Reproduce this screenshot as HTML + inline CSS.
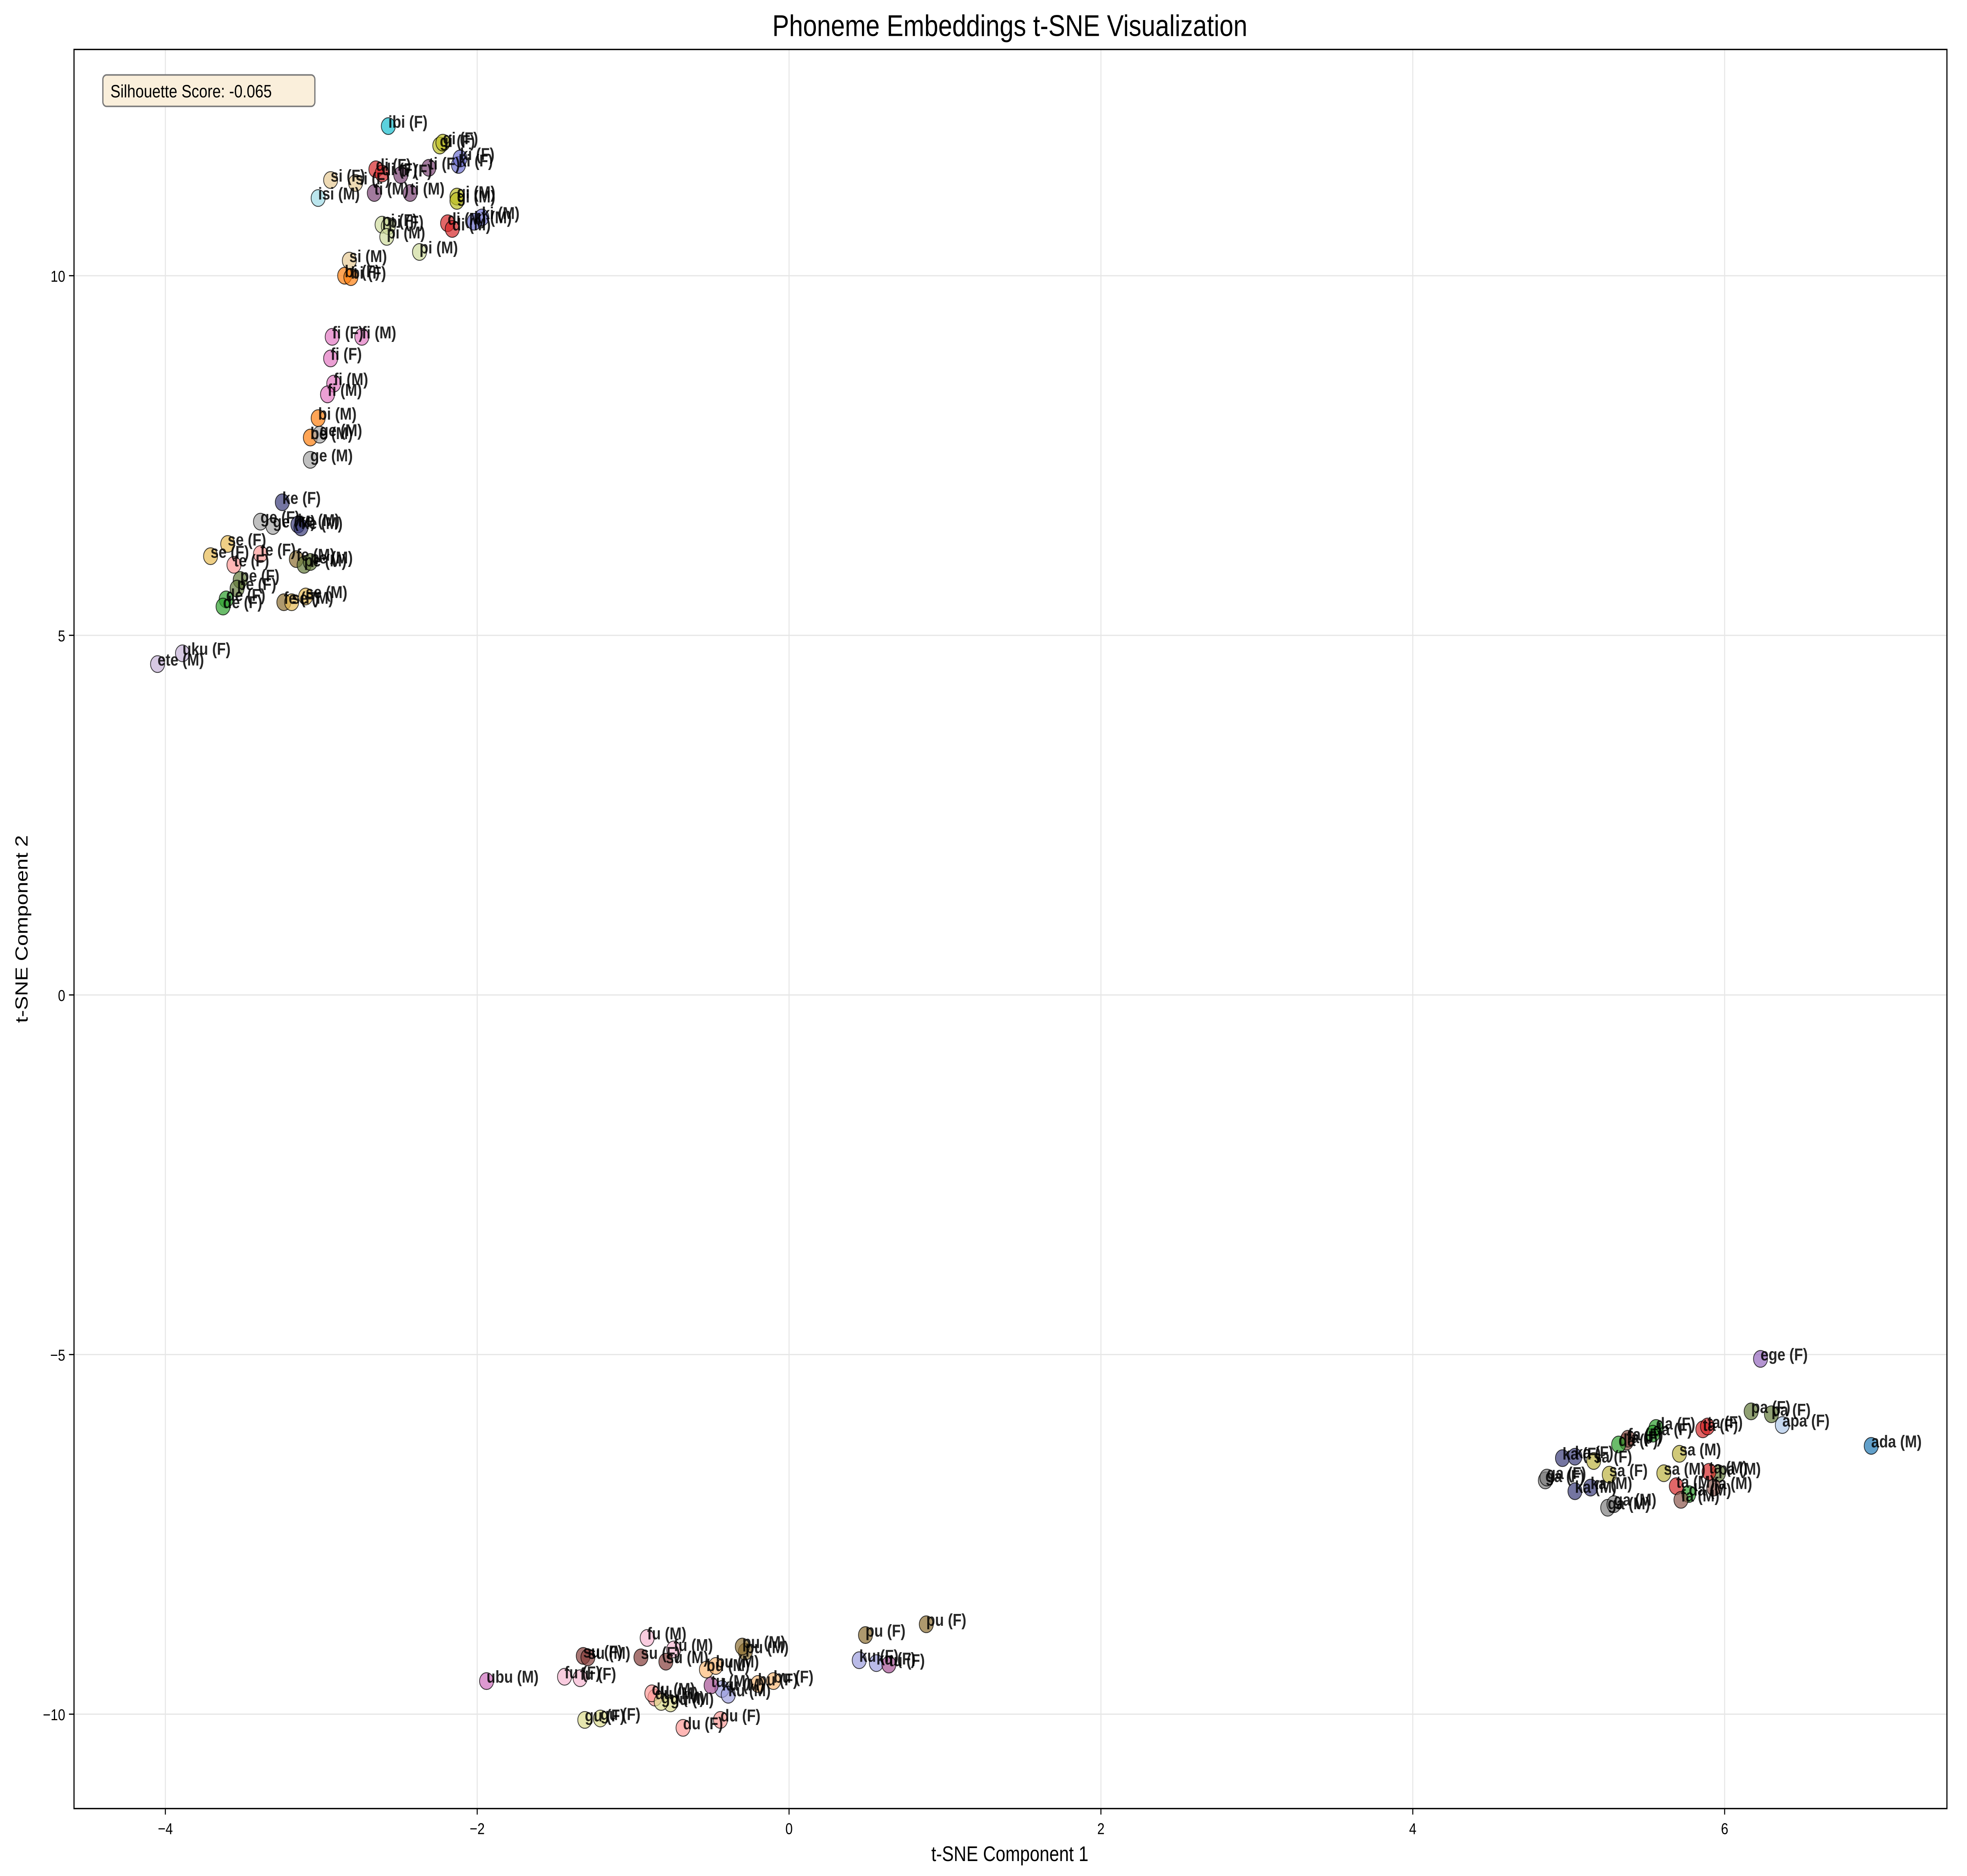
<!DOCTYPE html>
<html><head><meta charset="utf-8"><style>
html,body{margin:0;padding:0;background:#fff;width:100%;height:100%;overflow:hidden}
svg{display:block;position:fixed;left:0;top:0;width:100vw;height:100vh}
text{font-family:"Liberation Sans","DejaVu Sans",sans-serif}
</style></head><body>
<svg id="chart" viewBox="0 0 1568 1252" preserveAspectRatio="none" xmlns="http://www.w3.org/2000/svg">
<rect x="0" y="0" width="1568" height="1252" fill="#fff"/>
<text x="805" y="24" font-size="20" text-anchor="middle" fill="#000">Phoneme Embeddings t-SNE Visualization</text>
<g id="grid"></g>
<g id="points"></g>
<g id="labels"></g>
<rect x="59" y="33" width="1493" height="1174" fill="none" stroke="#000" stroke-width="0.9"/>
<g id="xticks"></g>
<g id="yticks"></g>
<text x="805" y="1242" font-size="14" text-anchor="middle">t-SNE Component 1</text>
<text x="0" y="0" font-size="14" text-anchor="middle" transform="translate(22,620) rotate(-90)">t-SNE Component 2</text>
<g>
<rect x="82" y="50" width="169" height="21" rx="3" fill="#faefdb" stroke="#7a7a7a" stroke-width="1"/>
<text x="88" y="65" font-size="12">Silhouette Score: -0.065</text>
</g>
</svg>
<script>
const labels=["ibi (F)","gi (F)","gi (F)","ki (F)","ki (F)","di (F)","di (F)","ti (F)","ti (F)","si (F)","si (F)","isi (M)","ti (M)","ti (M)","gi (M)","gi (M)","ki (M)","ki (M)","di (M)","di (M)","pi (F)","pi (F)","pi (M)","pi (M)","si (M)","bi (F)","bi (F)","fi (F)","fi (M)","fi (F)","fi (M)","fi (M)","bi (M)","be (M)","ge (M)","ge (M)","ke (F)","ge (F)","ke (M)","ke (M)","ge (M)","se (F)","se (F)","te (F)","te (F)","fe (M)","pe (M)","pe (M)","pe (F)","pe (F)","de (F)","de (F)","fe (F)","se (M)","se (M)","ete (M)","uku (F)",
"fu (M)","fu (M)","su (F)","su (M)","su (F)","su (M)","pu (M)","pu (M)","pu (F)","pu (F)","ku (F)","ku (F)","tu (F)","ubu (M)","fu (F)","fu (F)","bu (M)","bu (M)","bu (F)","ku (M)","ku (M)","du (M)","du (M)","gu (M)","gu (M)","gu (F)","gu (F)","du (F)","du (F)","tu (M)","bu (F)",
"ege (F)","ada (M)","apa (F)","pa (F)","pa (F)","ta (F)","ta (F)","da (F)","da (F)","fa (F)","fa (F)","da (F)","sa (F)","sa (F)","ka (F)","ka (F)","ga (F)","ga (F)","ka (M)","ka (M)","sa (M)","sa (M)","pa (M)","ta (M)","ta (M)","fa (M)","da (M)","fa (M)","ga (M)","ga (M)"];
const xs=[-2.57,-2.24,-2.22,-2.12,-2.11,-2.65,-2.61,-2.49,-2.31,-2.94,-2.78,-3.02,-2.66,-2.43,-2.13,-2.13,-2.02,-1.97,-2.19,-2.16,-2.61,-2.57,-2.58,-2.37,-2.82,-2.85,-2.81,-2.93,-2.74,-2.94,-2.92,-2.96,-3.02,-3.07,-3.01,-3.07,-3.25,-3.39,-3.15,-3.13,-3.31,-3.60,-3.71,-3.56,-3.39,-3.16,-3.11,-3.07,-3.52,-3.54,-3.61,-3.63,-3.24,-3.19,-3.10,-4.05,-3.89,
-0.91,-0.74,-1.32,-1.29,-0.95,-0.79,-0.28,-0.30,0.49,0.88,0.45,0.56,0.64,-1.94,-1.44,-1.34,-0.53,-0.47,-0.10,-0.43,-0.39,-0.86,-0.88,-0.76,-0.82,-1.31,-1.21,-0.68,-0.44,-0.50,-0.20,
6.23,6.94,6.37,6.30,6.17,5.86,5.89,5.56,5.54,5.37,5.38,5.32,5.16,5.26,4.96,5.04,4.85,4.86,5.04,5.14,5.71,5.61,5.96,5.90,5.69,5.93,5.77,5.72,5.25,5.29];
const ys=[12.08,11.81,11.85,11.54,11.63,11.48,11.42,11.40,11.50,11.33,11.29,11.08,11.15,11.15,11.10,11.04,10.75,10.81,10.73,10.65,10.71,10.69,10.54,10.33,10.21,10.00,9.98,9.15,9.15,8.85,8.50,8.35,8.02,7.75,7.79,7.44,6.85,6.58,6.54,6.50,6.52,6.27,6.10,5.98,6.13,6.06,5.98,6.02,5.77,5.65,5.50,5.40,5.46,5.46,5.54,4.60,4.75,
-8.94,-9.10,-9.19,-9.21,-9.21,-9.27,-9.13,-9.06,-8.90,-8.75,-9.25,-9.29,-9.31,-9.54,-9.48,-9.50,-9.38,-9.33,-9.54,-9.65,-9.73,-9.77,-9.71,-9.85,-9.83,-10.08,-10.06,-10.19,-10.08,-9.60,-9.58,
-5.06,-6.27,-5.98,-5.83,-5.79,-6.04,-6.00,-6.02,-6.10,-6.21,-6.17,-6.25,-6.48,-6.67,-6.44,-6.42,-6.75,-6.71,-6.90,-6.85,-6.38,-6.65,-6.65,-6.63,-6.83,-6.85,-6.94,-7.02,-7.13,-7.08];
const xTicks=[-4,-2,0,2,4,6];
const yTicks=[-10,-5,0,5,10];
const xTickLabels=["\u22124","\u22122","0","2","4","6"];
const yTickLabels=["\u221210","\u22125","0","5","10"];
const colorMap={ibi:"#17becf",gi:"#bcbd22",ki:"#6b6ecf",di:"#d62728",ti:"#7b4173",si:"#e7cb94",isi:"#9edae5",pi:"#cedb9c",bi:"#ff7f0e",be:"#ff7f0e",fi:"#e377c2",ge:"#a5a5a5",ke:"#393b79",se:"#e7ba52",te:"#ff9896",fe:"#8c6d31",pe:"#637939",de:"#2ca02c",ete:"#c5b0d5",uku:"#c5b0d5",
fu:"#f7b6d2",su:"#843c39",pu:"#8c6d31",ku:"#9c9ede",tu:"#a55194",ubu:"#ce6dbd",bu:"#ffbb78",du:"#ff9896",gu:"#dbdb8d",
ege:"#9467bd",ada:"#1f77b4",apa:"#aec7e8",pa:"#637939",ta:"#d62728",da:"#2ca02c",fa:"#8c564b",sa:"#bcb240",ka:"#393b79",ga:"#7f7f7f"};
const NS="http://www.w3.org/2000/svg";
const L=59,R=1552,T=33,B=1207;
function sx(v){return 629+v*124.3;}
function sy(v){return 664-v*48;}
function mk(tag,attrs,parent){const e=document.createElementNS(NS,tag);for(const k in attrs)e.setAttribute(k,attrs[k]);parent.appendChild(e);return e;}
const grid=document.getElementById('grid'),xt=document.getElementById('xticks'),yt=document.getElementById('yticks');
xTicks.forEach((t,i)=>{
 const g=mk('line',{x1:sx(t),x2:sx(t),y1:T,y2:B,stroke:'#e6e6e6','stroke-width':0.8},grid);
 
 
 const tk=mk('line',{x1:sx(t),x2:sx(t),y1:B,y2:B+4,stroke:'#000','stroke-width':0.8},xt);
 
 
 const tx=mk('text',{x:sx(t),y:B+17,'font-size':10.5,'text-anchor':'middle'},xt);
 tx.textContent=xTickLabels[i];
 
 
});
yTicks.forEach((t,i)=>{
 const g=mk('line',{x1:L,x2:R,y1:sy(t),y2:sy(t),stroke:'#e6e6e6','stroke-width':0.8},grid);
 
 
 const tk=mk('line',{x1:L-4,x2:L,y1:sy(t),y2:sy(t),stroke:'#000','stroke-width':0.8},yt);
 
 
 const tx=mk('text',{x:L-7,y:sy(t)+4,'font-size':10.5,'text-anchor':'end'},yt);
 tx.textContent=yTickLabels[i];
 
 
});
const pg=document.getElementById('points'),lg=document.getElementById('labels');
labels.forEach((lab,i)=>{
 const ph=lab.split(' ')[0];
 const c=mk('circle',{cx:sx(xs[i]),cy:sy(ys[i]),r:5.6,fill:colorMap[ph]||'#888','fill-opacity':0.7,stroke:'#000','stroke-opacity':0.75,'stroke-width':0.6},pg);
 
 
 const t=mk('text',{x:sx(xs[i]),y:sy(ys[i])+1,'font-size':11.5,'font-weight':'bold',fill:'#000','fill-opacity':0.85},lg);
 t.textContent=lab;
 
 
});
</script>
</body></html>
